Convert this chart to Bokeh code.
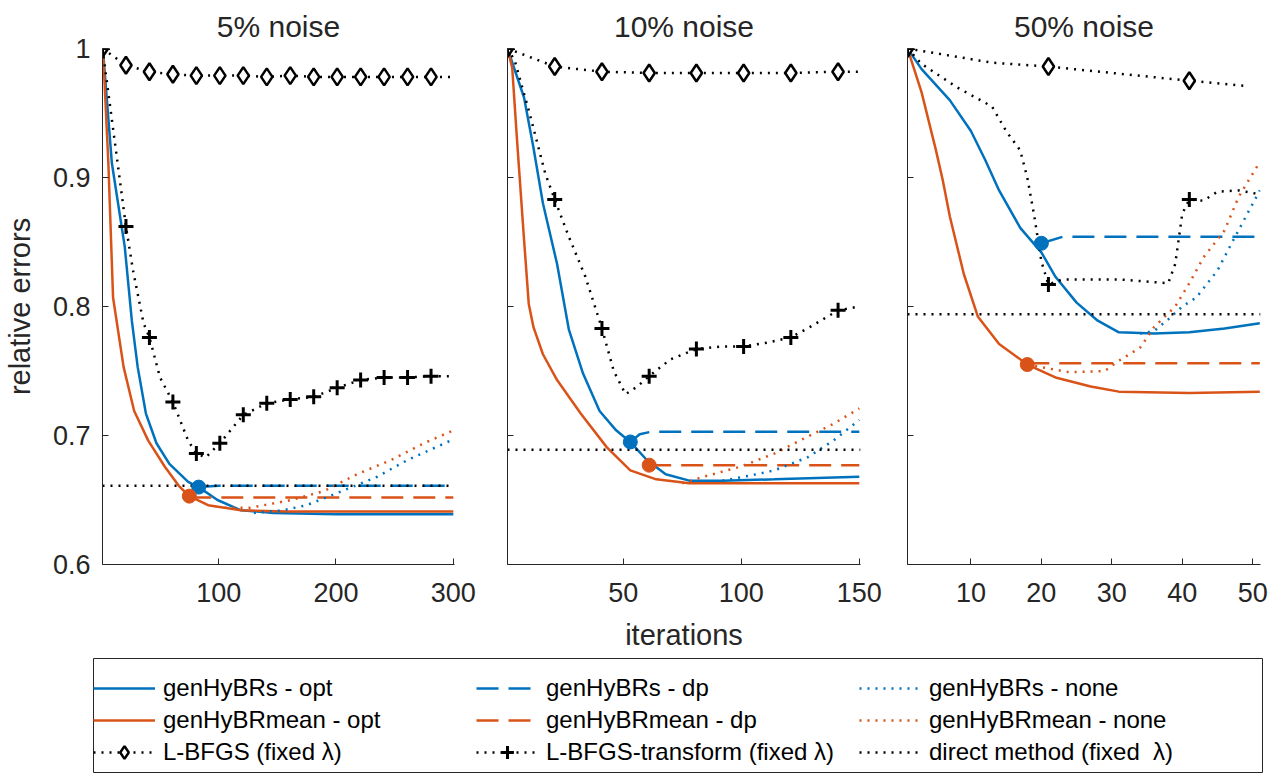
from bokeh.plotting import figure
from bokeh.layouts import row, column
from bokeh.models import Range1d, FixedTicker, Legend, LegendItem, CustomLabelingPolicy
from bokeh.embed import file_html
from bokeh.resources import INLINE

BLUE = "#0072BD"
ORANGE = "#D95319"
BLACK = "#000000"
AXC = "#262626"
FONT = "Liberation Sans"

# ---------------- data : 5% noise ----------------
p5_s_opt_it = [1, 2, 9, 20, 26, 31, 38, 47, 58, 74, 83, 99, 119, 147, 200, 250, 300]
p5_s_opt = [1.0, 0.992, 0.911, 0.846, 0.789, 0.753, 0.717, 0.694, 0.678, 0.664, 0.660, 0.650, 0.642, 0.640, 0.639, 0.639, 0.639]
p5_m_opt_it = [1, 2, 6, 10, 13, 19, 28, 40, 54, 66, 75, 91, 119, 160, 220, 300]
p5_m_opt = [1.0, 0.988, 0.911, 0.807, 0.789, 0.753, 0.719, 0.696, 0.676, 0.661, 0.653, 0.646, 0.642, 0.641, 0.641, 0.641]
p5_s_dp_it = [83, 100, 300]
p5_s_dp = [0.660, 0.661, 0.661]
p5_m_dp_it = [75, 300]
p5_m_dp = [0.652, 0.652]
p5_s_none_it = [130, 155, 175, 200, 235, 261, 300]
p5_s_none = [0.640, 0.642, 0.646, 0.655, 0.668, 0.681, 0.697]
p5_m_none_it = [105, 127, 162, 190, 218, 247, 275, 300]
p5_m_none = [0.644, 0.644, 0.650, 0.657, 0.670, 0.681, 0.694, 0.704]
p5_s_stop = (83, 0.660)
p5_m_stop = (75, 0.653)
p5_lbfgs_it = [1, 21, 41, 61, 81, 101, 121, 141, 161, 181, 201, 221, 241, 261, 281, 300]
p5_lbfgs = [1.0, 0.987, 0.982, 0.980, 0.979, 0.979, 0.979, 0.978, 0.979, 0.978, 0.978, 0.978, 0.978, 0.978, 0.978, 0.978]
p5_tr_it = [1, 21, 27, 36, 41, 50, 61, 74, 81, 89, 101, 121, 141, 161, 181, 201, 221, 241, 261, 281, 300]
p5_tr = [1.0, 0.862, 0.828, 0.787, 0.776, 0.745, 0.726, 0.696, 0.686, 0.683, 0.694, 0.716, 0.725, 0.728, 0.730, 0.737, 0.743, 0.745, 0.745, 0.746, 0.746]
p5_marks = [1, 21, 41, 61, 81, 101, 121, 141, 161, 181, 201, 221, 241, 261, 281]
p5_direct = 0.661

# ---------------- data : 10% noise ----------------
p10_s_opt_it = [1, 8, 12, 16, 22, 27, 33, 40, 47, 53, 60, 68, 78, 92, 114, 150]
p10_s_opt = [1.0, 0.962, 0.923, 0.880, 0.833, 0.782, 0.748, 0.719, 0.704, 0.695, 0.681, 0.670, 0.665, 0.665, 0.666, 0.668]
p10_m_opt_it = [1, 3, 5, 8, 10, 12, 16, 22, 32, 43, 53, 64, 78, 100, 150]
p10_m_opt = [1.0, 0.985, 0.930, 0.852, 0.802, 0.784, 0.763, 0.743, 0.717, 0.691, 0.673, 0.666, 0.663, 0.663, 0.663]
p10_s_dp_it = [53, 57, 62, 150]
p10_s_dp = [0.695, 0.701, 0.703, 0.703]
p10_m_dp_it = [61, 150]
p10_m_dp = [0.677, 0.677]
p10_s_none_it = [92, 104, 114, 128, 139, 150]
p10_s_none = [0.665, 0.669, 0.673, 0.683, 0.696, 0.712]
p10_m_none_it = [75, 84, 100, 114, 128, 139, 150]
p10_m_none = [0.663, 0.668, 0.676, 0.686, 0.699, 0.709, 0.721]
p10_s_stop = (53, 0.695)
p10_m_stop = (61, 0.677)
p10_lbfgs_it = [1, 21, 41, 61, 81, 101, 121, 141, 150]
p10_lbfgs = [1.0, 0.986, 0.982, 0.981, 0.981, 0.981, 0.981, 0.982, 0.982]
p10_tr_it = [1, 4, 10, 17, 21, 27, 34, 41, 46, 51, 56, 61, 70, 81, 92, 101, 111, 121, 129, 141, 150]
p10_tr = [1.0, 0.991, 0.952, 0.903, 0.883, 0.854, 0.823, 0.783, 0.750, 0.732, 0.738, 0.746, 0.759, 0.767, 0.769, 0.769, 0.772, 0.776, 0.784, 0.797, 0.800]
p10_marks = [1, 21, 41, 61, 81, 101, 121, 141]
p10_direct = 0.689

# ---------------- data : 50% noise ----------------
p50_s_opt_it = [1, 3, 7, 10, 12, 14, 17, 20, 22, 25, 28, 31, 36, 41, 46, 51]
p50_s_opt = [1.0, 0.984, 0.960, 0.936, 0.914, 0.890, 0.861, 0.842, 0.823, 0.803, 0.789, 0.780, 0.779, 0.780, 0.783, 0.787]
p50_m_opt_it = [1, 3, 5, 6, 7, 9, 11, 14, 18, 22, 27, 31, 41, 51]
p50_m_opt = [1.0, 0.966, 0.922, 0.898, 0.870, 0.825, 0.792, 0.771, 0.755, 0.745, 0.738, 0.734, 0.733, 0.734]
p50_s_dp_it = [20, 23, 51]
p50_s_dp = [0.849, 0.854, 0.854]
p50_m_dp_it = [18, 51]
p50_m_dp = [0.756, 0.756]
p50_s_none_it = [34, 36, 38, 40, 42, 45, 47, 51]
p50_s_none = [0.779, 0.781, 0.790, 0.800, 0.807, 0.828, 0.849, 0.890]
p50_m_none_it = [18, 20, 24, 29, 31, 34, 36, 39, 41, 43, 46, 48, 51]
p50_m_none = [0.755, 0.753, 0.749, 0.750, 0.758, 0.768, 0.784, 0.800, 0.818, 0.838, 0.859, 0.885, 0.912]
p50_s_stop = (20, 0.849)
p50_m_stop = (18, 0.755)
p50_lbfgs_it = [1, 13, 21, 41, 49]
p50_lbfgs = [1.0, 0.989, 0.986, 0.975, 0.971]
p50_tr_it = [1, 3, 8, 13, 15, 17, 18, 19, 20, 21, 23, 31, 38, 39, 40, 41, 43, 45, 48, 51]
p50_tr = [1.0, 0.988, 0.970, 0.955, 0.936, 0.921, 0.900, 0.870, 0.835, 0.817, 0.821, 0.821, 0.818, 0.833, 0.872, 0.883, 0.882, 0.889, 0.890, 0.887]
p50_marks = [1, 21, 41]
p50_direct = 0.794

titles = ["5% noise", "10% noise", "50% noise"]
x_ends = [301, 150.5, 51.1]
x_ticks = [[100, 200, 300], [50, 100, 150], [10, 20, 30, 40, 50]]
y_ticks = [0.6, 0.7, 0.8, 0.9, 1.0]
legend_labels = ["genHyBRs - opt", "genHyBRs - dp", "genHyBRs - none",
                 "genHyBRmean - opt", "genHyBRmean - dp", "genHyBRmean - none",
                 "L-BFGS (fixed \u03bb)", "L-BFGS-transform (fixed \u03bb)", "direct method (fixed  \u03bb)"]

panels = [
    dict(s_opt=(p5_s_opt_it, p5_s_opt), m_opt=(p5_m_opt_it, p5_m_opt),
         s_dp=(p5_s_dp_it, p5_s_dp), m_dp=(p5_m_dp_it, p5_m_dp),
         s_none=(p5_s_none_it, p5_s_none), m_none=(p5_m_none_it, p5_m_none),
         s_stop=p5_s_stop, m_stop=p5_m_stop, lbfgs=(p5_lbfgs_it, p5_lbfgs),
         tr=(p5_tr_it, p5_tr), marks=p5_marks, direct=p5_direct),
    dict(s_opt=(p10_s_opt_it, p10_s_opt), m_opt=(p10_m_opt_it, p10_m_opt),
         s_dp=(p10_s_dp_it, p10_s_dp), m_dp=(p10_m_dp_it, p10_m_dp),
         s_none=(p10_s_none_it, p10_s_none), m_none=(p10_m_none_it, p10_m_none),
         s_stop=p10_s_stop, m_stop=p10_m_stop, lbfgs=(p10_lbfgs_it, p10_lbfgs),
         tr=(p10_tr_it, p10_tr), marks=p10_marks, direct=p10_direct),
    dict(s_opt=(p50_s_opt_it, p50_s_opt), m_opt=(p50_m_opt_it, p50_m_opt),
         s_dp=(p50_s_dp_it, p50_s_dp), m_dp=(p50_m_dp_it, p50_m_dp),
         s_none=(p50_s_none_it, p50_s_none), m_none=(p50_m_none_it, p50_m_none),
         s_stop=p50_s_stop, m_stop=p50_m_stop, lbfgs=(p50_lbfgs_it, p50_lbfgs),
         tr=(p50_tr_it, p50_tr), marks=p50_marks, direct=p50_direct),
]

# layout (pixels)
FRAME_W = 353
borders = [(101, 22), (31, 22), (25, 14)]
TOP, FRAME_H, BOTTOM = 48, 516, 91

LW = 2.5
DASH = "22 10"
DOT = "2 6"


def subset(its, vals, keep):
    return [v for i, v in zip(its, vals) if i in keep]


def make_panel(k):
    d = panels[k]
    bl, br = borders[k]
    p = figure(width=bl + FRAME_W + br, height=TOP + FRAME_H + BOTTOM,
               x_range=Range1d(1, x_ends[k]), y_range=Range1d(0.6, 1.0),
               toolbar_location=None, output_backend="svg",
               min_border_left=bl, min_border_right=br,
               min_border_top=TOP, min_border_bottom=BOTTOM)
    p.outline_line_color = None
    p.grid.visible = False
    p.title.text = titles[k]
    p.title.align = "center"
    p.title.text_font = FONT
    p.title.text_font_size = "30px"
    p.title.text_font_style = "normal"
    p.title.text_color = AXC
    p.title.standoff = 12

    for ax in (p.xaxis, p.yaxis):
        ax.axis_line_color = AXC
        ax.axis_line_width = 1
        ax.major_tick_line_color = AXC
        ax.major_tick_in = 6
        ax.major_tick_out = 0
        ax.minor_tick_line_color = None
        ax.major_label_text_font = FONT
        ax.major_label_text_font_size = "27px"
        ax.major_label_text_color = AXC
        ax.axis_label_text_font = FONT
        ax.axis_label_text_font_size = "29px"
        ax.axis_label_text_font_style = "normal"
        ax.axis_label_text_color = AXC
    p.xaxis.ticker = FixedTicker(ticks=x_ticks[k])
    p.yaxis.ticker = FixedTicker(ticks=y_ticks)
    p.xaxis.major_label_standoff = 18
    p.yaxis.major_label_standoff = 12
    p.yaxis.major_label_overrides = {1: "1"}
    if k == 0:
        p.yaxis.axis_label = "relative errors"
        p.yaxis.axis_label_standoff = 14
    else:
        p.yaxis.major_label_text_font_size = "1px"
        p.yaxis.major_label_standoff = 0
        p.yaxis.major_label_policy = CustomLabelingPolicy(
            code="const all = [...indices]; for (const i of all) { indices.unset(i) } return indices")
    if k == 1:
        p.xaxis.axis_label = "iterations"
        p.xaxis.axis_label_standoff = 14

    # genHyBR curves
    p.line(*d["s_opt"], color=BLUE, line_width=LW)
    p.line(*d["m_opt"], color=ORANGE, line_width=LW)
    p.line(*d["s_dp"], color=BLUE, line_width=LW, line_dash=DASH)
    p.line(*d["m_dp"], color=ORANGE, line_width=LW, line_dash=DASH)
    p.line(*d["s_none"], color=BLUE, line_width=LW, line_dash=DOT)
    p.line(*d["m_none"], color=ORANGE, line_width=LW, line_dash=DOT)

    # L-BFGS
    lit, lval = d["lbfgs"]
    p.line(lit, lval, color=BLACK, line_width=2.5, line_dash=DOT)
    p.scatter([i for i in lit if i in d["marks"]], subset(lit, lval, d["marks"]),
              marker="diamond", size=17, line_color=BLACK, line_width=2.5,
              fill_color="white")
    # L-BFGS-transform
    tit, tval = d["tr"]
    p.line(tit, tval, color=BLACK, line_width=2.5, line_dash=DOT)
    p.scatter([i for i in tit if i in d["marks"]], subset(tit, tval, d["marks"]),
              marker="cross", size=15, line_color=BLACK, line_width=3)
    # direct method
    p.line([1, x_ends[k]], [d["direct"], d["direct"]], color=BLACK,
           line_width=2.5, line_dash=DOT)

    # stopping points
    p.scatter([d["s_stop"][0]], [d["s_stop"][1]], marker="circle", size=14,
              color=BLUE)
    p.scatter([d["m_stop"][0]], [d["m_stop"][1]], marker="circle", size=14,
              color=ORANGE)
    return p


figs = [make_panel(k) for k in range(3)]

# ---------------- legend ----------------
LEG_H = 118
leg = figure(width=1274, height=LEG_H, toolbar_location=None, output_backend="svg",
             x_axis_type=None, y_axis_type=None, x_range=(0, 1), y_range=(0, 1),
             min_border_left=93, min_border_right=12, min_border_top=3,
             min_border_bottom=0)
leg.grid.visible = False
leg.outline_line_color = AXC
leg.outline_line_width = 1

# legend proxies (placed outside the visible range, only their styles are used)
px, py = [5, 6], [5, 6]
r_s_opt = leg.line(px, py, color=BLUE, line_width=LW)
r_m_opt = leg.line(px, py, color=ORANGE, line_width=LW)
r_lb_l = leg.line(px, py, color=BLACK, line_width=2.5, line_dash=DOT)
r_lb_m = leg.scatter(px, py, marker="diamond", size=17, line_color=BLACK,
                     line_width=2.5, fill_color="white")
r_s_dp = leg.line(px, py, color=BLUE, line_width=LW, line_dash=DASH)
r_m_dp = leg.line(px, py, color=ORANGE, line_width=LW, line_dash=DASH)
r_tr_l = leg.line(px, py, color=BLACK, line_width=2.5, line_dash=DOT)
r_tr_m = leg.scatter(px, py, marker="cross", size=15, line_color=BLACK, line_width=3)
r_s_none = leg.line(px, py, color=BLUE, line_width=LW, line_dash=DOT)
r_m_none = leg.line(px, py, color=ORANGE, line_width=LW, line_dash=DOT)
r_dir = leg.line(px, py, color=BLACK, line_width=2.5, line_dash=DOT)

items = [
    LegendItem(label=legend_labels[0], renderers=[r_s_opt]),
    LegendItem(label=legend_labels[3], renderers=[r_m_opt]),
    LegendItem(label=legend_labels[6], renderers=[r_lb_l, r_lb_m]),
    LegendItem(label=legend_labels[1], renderers=[r_s_dp]),
    LegendItem(label=legend_labels[4], renderers=[r_m_dp]),
    LegendItem(label=legend_labels[7], renderers=[r_tr_l, r_tr_m]),
    LegendItem(label=legend_labels[2], renderers=[r_s_none]),
    LegendItem(label=legend_labels[5], renderers=[r_m_none]),
    LegendItem(label=legend_labels[8], renderers=[r_dir]),
]
legend = Legend(items=items, ncols=3, orientation="vertical", location=(0, 5),
                label_text_font=FONT, label_text_font_size="24px",
                label_text_color=BLACK, glyph_width=62, glyph_height=32,
                label_standoff=8, label_width=313, label_height=28,
                spacing=0, padding=4, margin=0, border_line_color=None,
                background_fill_alpha=0)
leg.add_layout(legend, "center")

layout = column(row(*figs), leg)
open("out.html", "w").write(file_html(layout, INLINE))
